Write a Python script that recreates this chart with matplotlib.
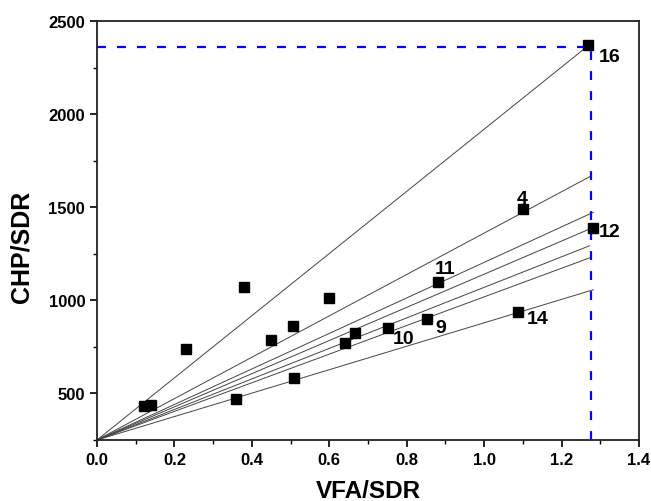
import matplotlib
matplotlib.use("Agg")
import matplotlib.pyplot as plt
from matplotlib.ticker import MultipleLocator

plt.rcParams['font.family'] = ['Liberation Sans', 'DejaVu Sans']
plt.rcParams['font.weight'] = 'bold'

# measured points (VFA/SDR, CHP/SDR)
vfa = [0.122, 0.139, 0.230, 0.359, 0.380, 0.450, 0.506, 0.509, 0.598,
       0.641, 0.667, 0.752, 0.852, 0.881, 1.088, 1.100, 1.280, 1.267]
chp = [433, 436, 739, 470, 1073, 789, 864, 581, 1014,
       769, 825, 853, 898, 1100, 939, 1489, 1390, 2371]

# rays from the origin, one per labelled sample
ray_origin = (0.0, 250)
ray_end_x = [1.267, 1.276, 1.282, 1.280, 1.272, 1.276, 1.282]
ray_end_y = [2365, 1668, 1473, 1390, 1293, 1231, 1057]

# labels
lab_text = ['16', '4', '11', '12', '10', '9', '14']
lab_x = [1.296, 1.085, 0.872, 1.297, 0.765, 0.875, 1.11]
lab_y = [2310, 1545, 1170, 1370, 795, 855, 900]

# blue guide lines
guide_x = 1.277
guide_y = 2362

fig = plt.figure(figsize=(6.51, 5.02), dpi=100)
ax = fig.add_axes([0.149, 0.1215, 0.8326, 0.8345])

for ex, ey in zip(ray_end_x, ray_end_y):
    ax.plot([ray_origin[0], ex], [ray_origin[1], ey], color='#444444', lw=0.7)

ax.plot([0, guide_x], [guide_y, guide_y], color='blue', lw=1.6, ls=(0, (4, 5)))
ax.plot([guide_x, guide_x], [250, guide_y], color='blue', lw=1.6, ls=(0, (4, 5)))

ax.plot(vfa, chp, 's', color='black', ms=7.5, ls='none')

for t, x, y in zip(lab_text, lab_x, lab_y):
    ax.text(x, y, t, fontsize=14, fontweight='bold', va='center', ha='left')

ax.set_xlim(0, 1.4)
ax.set_ylim(250, 2500)
ax.xaxis.set_major_locator(MultipleLocator(0.2))
ax.xaxis.set_minor_locator(MultipleLocator(0.1))
ax.yaxis.set_major_locator(MultipleLocator(500))
ax.yaxis.set_minor_locator(MultipleLocator(250))
ax.set_yticks([500, 1000, 1500, 2000, 2500])
ax.tick_params(which='major', direction='out', length=5, width=1.2, labelsize=12)
ax.tick_params(which='minor', direction='out', length=3, width=1.0)
for lbl in ax.get_xticklabels() + ax.get_yticklabels():
    lbl.set_fontweight('bold')
for s in ax.spines.values():
    s.set_linewidth(1.3)
    s.set_color('#222222')

ax.set_xlabel('VFA/SDR', fontsize=17.5, fontweight='bold')
ax.set_ylabel('CHP/SDR', fontsize=18, fontweight='bold')
ax.xaxis.set_label_coords(0.5, -0.092)
ax.yaxis.set_label_coords(-0.118, 0.463)

fig.savefig('out.png', dpi=100)
